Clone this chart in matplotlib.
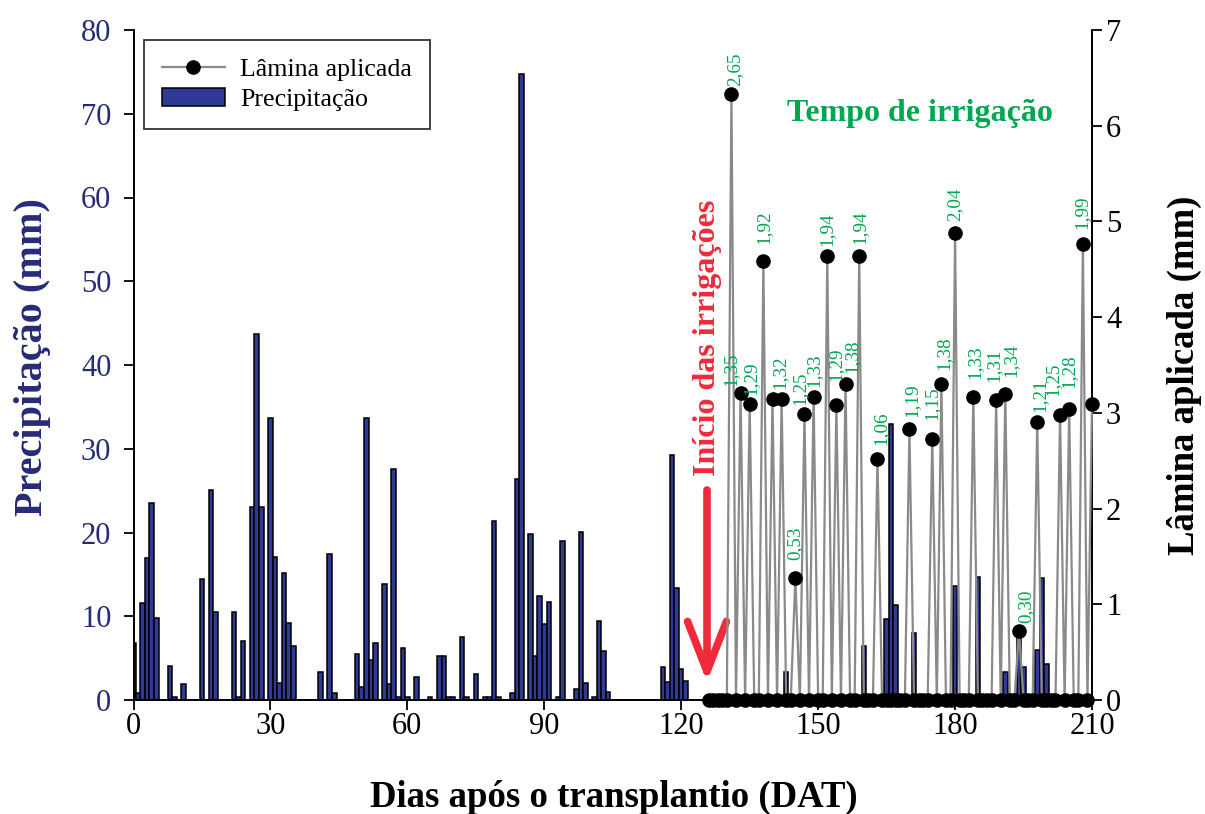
import matplotlib
matplotlib.use("Agg")
import matplotlib.pyplot as plt
from matplotlib.lines import Line2D
from matplotlib.patches import Patch
import numpy as np

plt.rcParams['font.family'] = ['Liberation Serif', 'DejaVu Serif']

# ---------------- data ----------------
precip_days = [0, 1, 2, 3, 4, 5, 8, 9, 11, 15, 17, 18, 22, 23, 24, 26, 27, 28,
               30, 31, 32, 33, 34, 35, 41, 43, 44, 49, 50, 51, 52, 53, 55, 56,
               57, 58, 59, 60, 62, 65, 67, 68, 69, 70, 72, 73, 75, 77, 78, 79,
               80, 83, 84, 85, 87, 88, 89, 90, 91, 93, 94, 97, 98, 99, 101,
               102, 103, 104, 116, 117, 118, 119, 120, 121, 143, 160, 165, 166,
               167, 171, 180, 185, 191, 194, 195, 198, 199, 200]
precip_mm = [6.8, 0.8, 11.6, 17.0, 23.5, 9.8, 4.1, 0.4, 1.9, 14.4, 25.1, 10.5,
             10.5, 0.3, 7.0, 23.0, 43.7, 23.0, 33.7, 17.1, 2.0, 15.2, 9.2, 6.4,
             3.3, 17.4, 0.8, 5.5, 1.6, 33.7, 4.8, 6.8, 13.9, 1.9, 27.6, 0.3,
             6.2, 0.3, 2.8, 0.3, 5.2, 5.2, 0.3, 0.3, 7.5, 0.3, 3.1, 0.3, 0.3,
             21.4, 0.3, 0.8, 26.4, 74.7, 19.8, 5.3, 12.4, 9.1, 11.7, 0.3, 19.0,
             1.3, 20.1, 2.0, 0.3, 9.4, 5.8, 1.0, 4.0, 2.1, 29.2, 13.4, 3.7, 2.3,
             3.4, 6.5, 9.7, 33.0, 11.4, 8.0, 13.6, 14.7, 3.3, 7.7, 4.0, 6.0,
             14.6, 4.3]

# irrigation period (daily values, zero except on irrigation days)
irr_first_day = 126
irr_last_day = 210
irr_event_days = [131, 133, 135, 138, 140, 142, 145, 147, 149, 152, 154, 156,
                  159, 163, 170, 175, 177, 180, 184, 189, 191, 194, 198, 203,
                  205, 208, 210]
irr_lamina = [6.33, 3.21, 3.09, 4.59, 3.14, 3.14, 1.27, 2.99, 3.17, 4.64, 3.08,
              3.30, 4.64, 2.52, 2.83, 2.73, 3.30, 4.88, 3.17, 3.13, 3.20, 0.72,
              2.90, 2.98, 3.04, 4.76, 3.09]
irr_time_labels = ["2,65", "1,35", "1,29", "1,92", "1,32", None, "0,53", "1,25",
                   "1,33", "1,94", "1,29", "1,38", "1,94", "1,06", "1,19",
                   "1,15", "1,38", "2,04", "1,33", "1,31", "1,34", "0,30",
                   "1,21", "1,25", "1,28", "1,99", None]

x_ticks = [0, 30, 60, 90, 120, 150, 180, 210]
left_ticks = [0, 10, 20, 30, 40, 50, 60, 70, 80]
right_ticks = [0, 1, 2, 3, 4, 5, 6, 7]

# label placement offsets (pixels) relative to each point
lab_dx = [3, -10, 1, 1, 7, 0, 0, -5, 0, 0, -1, 6, 1, 3, 2, 0, 2, 0, 2, -2, 6,
          7, 3, -7, 0, -1, 0]
lab_dy = [8, 7, 9, 17, 10, 0, 18, 9, 10, 10, 24, 11, 12, 14, 12, 19, 14, 12,
          18, 18, 17, 8, 10, 19, 21, 15, 0]

# build daily irrigation series
days_irr = np.arange(irr_first_day, irr_last_day + 1)
lam_irr = np.zeros(len(days_irr))
for d, v in zip(irr_event_days, irr_lamina):
    lam_irr[d - irr_first_day] = v

# ---------------- colours ----------------
NAVY = '#2E3A94'
NAVY_TXT = '#262A78'
GREEN = '#00A650'
RED = '#EE2A3B'
GRAY = '#8A8A8A'

W, H = 1205, 814
fig = plt.figure(figsize=(W / 100, H / 100), dpi=100)
L, R, B, T = 133.5, 1092, 700, 30
ax = fig.add_axes([L / W, 1 - B / H, (R - L) / W, (B - T) / H])
ax2 = ax.twinx()

ax.bar(precip_days, precip_mm, width=1.0, color=NAVY, edgecolor='black',
       linewidth=1.1, zorder=2)
ax.set_xlim(0, 210)
ax.set_ylim(0, 80)
ax.set_xticks(x_ticks)
ax.set_yticks(left_ticks)

ax2.plot(days_irr, lam_irr, color=GRAY, lw=1.6, marker='o', ms=9.5,
         mfc='black', mec='black', zorder=3, clip_on=False)
ax2.set_ylim(0, 7)
ax2.set_yticks(right_ticks)

for d, v, lab, dx, dy in zip(irr_event_days, irr_lamina, irr_time_labels,
                             lab_dx, lab_dy):
    if lab is None:
        continue
    ax2.annotate(lab, xy=(d, v), xytext=(dx, dy), textcoords='offset pixels',
                 rotation=90, ha='center', va='bottom', color=GREEN,
                 fontsize=13.8, zorder=5)

# spines & ticks
for a in (ax, ax2):
    a.spines['top'].set_visible(False)
    for s in ('left', 'right', 'bottom'):
        a.spines[s].set_linewidth(1.3)
ax.tick_params(axis='y', direction='out', length=7, width=1.3, labelsize=22,
               labelcolor=NAVY_TXT, pad=9)
ax.tick_params(axis='x', direction='out', length=7, width=1.3, labelsize=22,
               pad=2)
ax2.tick_params(axis='y', direction='out', length=7, width=1.3, labelsize=22,
                pad=3)

ax.set_xlabel('Dias após o transplantio (DAT)', fontsize=26.5,
              fontweight='bold')
ax.xaxis.set_label_coords(0.501, -0.119)
ax.set_ylabel('Precipitação (mm)', fontsize=29, fontweight='bold',
              color=NAVY_TXT)
ax.yaxis.set_label_coords(-0.086, 0.512)
ax2.set_ylabel('Lâmina aplicada (mm)', fontsize=26.5, fontweight='bold',
               rotation=90)
ax2.yaxis.set_label_coords(1.078, 0.485)

# annotations
fig.text(920 / W, 1 - 113 / H, 'Tempo de irrigação', color=GREEN,
         fontsize=23, fontweight='bold', ha='center', va='center')
fig.text(707 / W, 1 - 338 / H, 'Início das irrigações', color=RED,
         fontsize=23, fontweight='bold', ha='center', va='center',
         rotation=90)
ax.annotate('', xy=(707 / W, 1 - 682 / H), xycoords='figure fraction',
            xytext=(707 / W, 1 - 490 / H), textcoords='figure fraction',
            arrowprops=dict(arrowstyle='->, head_length=1.8, head_width=0.7',
                            mutation_scale=20, color=RED, lw=5.5,
                            capstyle='round', joinstyle='round',
                            shrinkA=0, shrinkB=0), zorder=6)

# legend
handles = [Line2D([0], [0], color=GRAY, lw=1.6, marker='o', ms=9.5,
                  mfc='black', mec='black'),
           Patch(facecolor=NAVY, edgecolor='black', linewidth=1.1)]
leg = ax2.legend(handles, ['Lâmina aplicada', 'Precipitação'],
                 loc='upper left', bbox_to_anchor=(144 / W, 1 - 40 / H),
                 bbox_transform=fig.transFigure, borderaxespad=0,
                 fontsize=18.7, frameon=True, fancybox=False,
                 edgecolor='black', handlelength=2.4, handletextpad=0.6,
                 labelspacing=0.25, borderpad=0.7)
leg.get_frame().set_linewidth(1.3)
leg.set_zorder(10)

fig.savefig('out.png', dpi=100)
